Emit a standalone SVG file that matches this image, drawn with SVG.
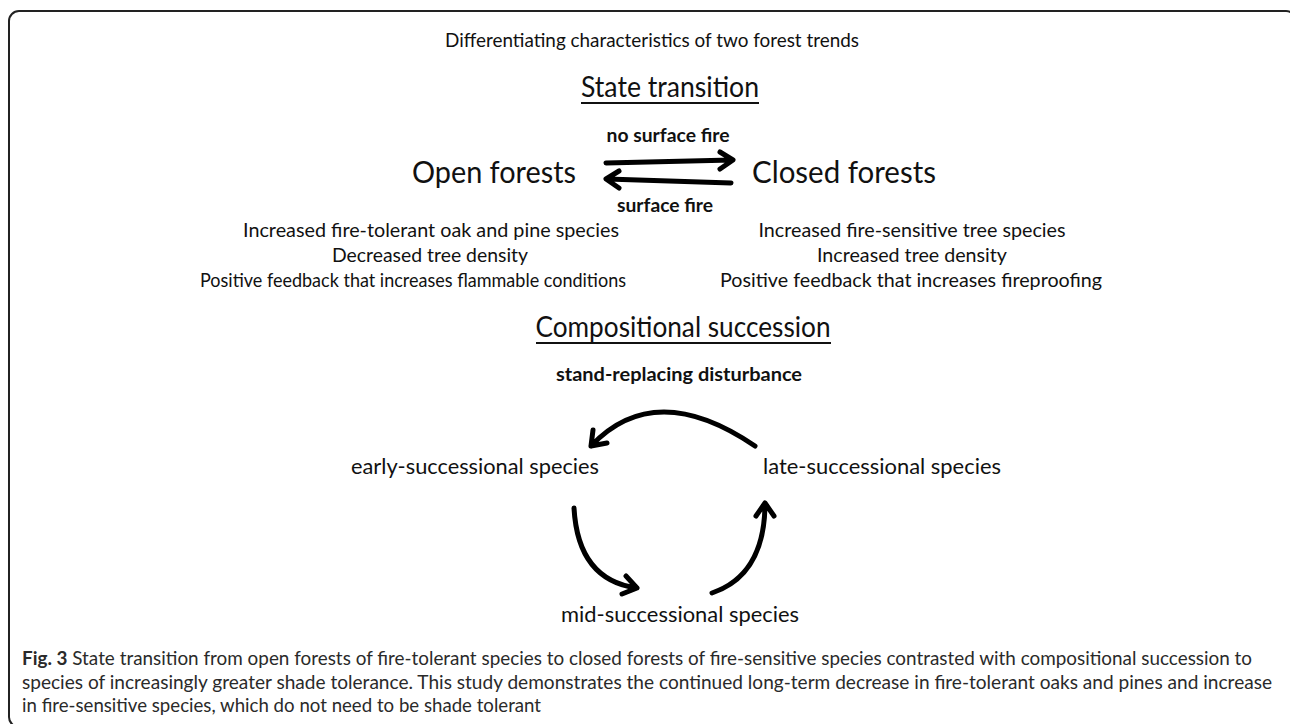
<svg xmlns="http://www.w3.org/2000/svg" width="1290" height="724" viewBox="0 0 1290 724">
<defs>
<style>
.t{font-family:Lato,"Liberation Sans",sans-serif;fill:#111;text-anchor:middle}
.b{font-weight:bold}
.c{font-family:Lato,"Liberation Sans",sans-serif;fill:#2a2a2a;font-size:19px}
.ar{fill:none;stroke:#000;stroke-width:5;stroke-linecap:round;stroke-linejoin:round}
.ul{stroke:#111;stroke-width:2}
</style>
</defs>
<rect x="9" y="11" width="1287" height="716" rx="10" fill="none" stroke="#222" stroke-width="2"/>
<g id="title"><text class="t" x="652" y="47" font-size="20" textLength="414" lengthAdjust="spacingAndGlyphs">Differentiating characteristics of two forest trends</text></g>
<g id="state-transition"><text class="t" x="670" y="97" font-size="28" textLength="178" lengthAdjust="spacingAndGlyphs">State transition</text><line class="ul" x1="581" y1="103" x2="759" y2="103"/></g>
<g id="open-forests"><text class="t" x="494" y="183" font-size="30" textLength="164" lengthAdjust="spacingAndGlyphs">Open forests</text></g>
<g id="closed-forests"><text class="t" x="844" y="183" font-size="30" textLength="184" lengthAdjust="spacingAndGlyphs">Closed forests</text></g>
<g id="label-no-surface-fire"><text class="t b" x="668" y="142" font-size="18" textLength="123" lengthAdjust="spacingAndGlyphs">no surface fire</text></g>
<g id="label-surface-fire"><text class="t b" x="665" y="212" font-size="18" textLength="96" lengthAdjust="spacingAndGlyphs">surface fire</text></g>
<g id="open-list">
<text class="t" x="431" y="237" font-size="20" textLength="376" lengthAdjust="spacingAndGlyphs">Increased fire-tolerant oak and pine species</text>
<text class="t" x="430" y="262" font-size="20" textLength="196" lengthAdjust="spacingAndGlyphs">Decreased tree density</text>
<text class="t" x="413" y="287" font-size="20" textLength="426" lengthAdjust="spacingAndGlyphs">Positive feedback that increases flammable conditions</text>
</g>
<g id="closed-list">
<text class="t" x="912" y="237" font-size="20" textLength="307" lengthAdjust="spacingAndGlyphs">Increased fire-sensitive tree species</text>
<text class="t" x="912" y="262" font-size="20" textLength="190" lengthAdjust="spacingAndGlyphs">Increased tree density</text>
<text class="t" x="911" y="287" font-size="20" textLength="382" lengthAdjust="spacingAndGlyphs">Positive feedback that increases fireproofing</text>
</g>
<g id="compositional-succession"><text class="t" x="683" y="337" font-size="28" textLength="295" lengthAdjust="spacingAndGlyphs">Compositional succession</text><line class="ul" x1="536" y1="343" x2="831" y2="343"/></g>
<g id="label-stand-replacing"><text class="t b" x="679" y="381" font-size="19" textLength="246" lengthAdjust="spacingAndGlyphs">stand-replacing disturbance</text></g>
<g id="early"><text class="t" x="475" y="474" font-size="22" textLength="248" lengthAdjust="spacingAndGlyphs">early-successional species</text></g>
<g id="late"><text class="t" x="882" y="474" font-size="22" textLength="238" lengthAdjust="spacingAndGlyphs">late-successional species</text></g>
<g id="mid"><text class="t" x="680" y="622" font-size="22" textLength="238" lengthAdjust="spacingAndGlyphs">mid-successional species</text></g>
<g id="connectors">
<path class="ar" d="M606 163 L732 160 M720 152 L733 160 L720 169"/>
<path class="ar" d="M731 183 L607 179 M619 171 L606 179 L619 188"/>
<path class="ar" d="M755 446 Q655 378 591 446 M593 430 L591 446 L607 443"/>
<path class="ar" d="M574 508 Q578 580 637 588 M626 576 L637 588 L622 594"/>
<path class="ar" d="M712 593 Q765 575 765 503 M756 516 L765 503 L774 516"/>
</g>
<g id="caption">
<text class="c" x="22" y="665" textLength="1230" lengthAdjust="spacingAndGlyphs"><tspan font-weight="bold">Fig. 3</tspan> State transition from open forests of fire-tolerant species to closed forests of fire-sensitive species contrasted with compositional succession to</text>
<text class="c" x="22" y="689" textLength="1250" lengthAdjust="spacingAndGlyphs">species of increasingly greater shade tolerance. This study demonstrates the continued long-term decrease in fire-tolerant oaks and pines and increase</text>
<text class="c" x="22" y="712" textLength="519" lengthAdjust="spacingAndGlyphs">in fire-sensitive species, which do not need to be shade tolerant</text>
</g>
</svg>
